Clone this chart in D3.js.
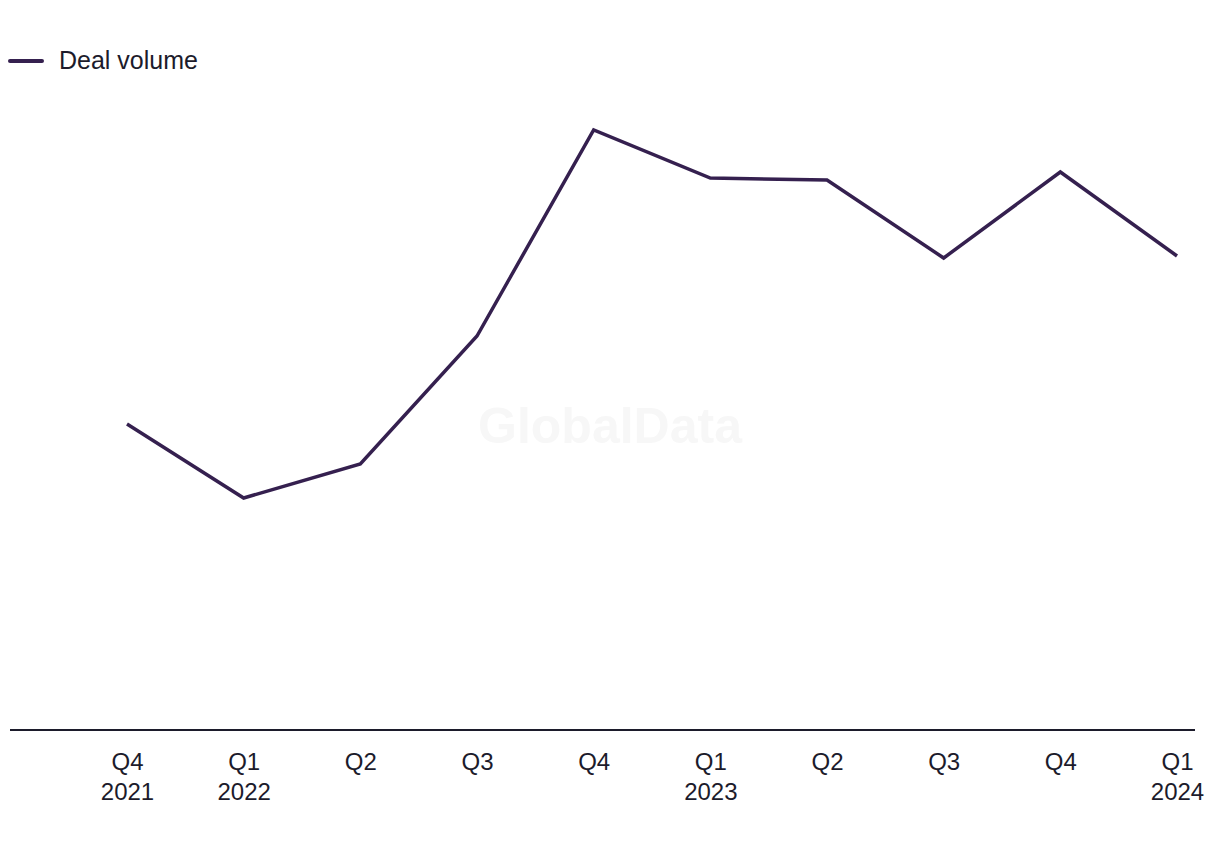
<!DOCTYPE html>
<html>
<head>
<meta charset="utf-8">
<script src="https://cdn.jsdelivr.net/npm/d3@7"></script>
<style>
  html, body { margin: 0; padding: 0; background: #fff; }
  svg { display: block; }
  text { font-family: "Liberation Sans", Arial, sans-serif; fill: #1c1b2b; }
</style>
</head>
<body>
<svg id="chart" width="1220" height="850"></svg>
<script>
const quarters = ["Q4", "Q1", "Q2", "Q3", "Q4", "Q1", "Q2", "Q3", "Q4", "Q1"];
const years = ["2021", "2022", "", "", "", "2023", "", "", "", "2024"];
const categories = quarters.map((q, i) => q + " " + (years[i] || i));
const dealVolume = [153, 116, 133, 197, 300, 276, 275, 236, 279, 237];
const seriesName = "Deal volume";

const lineColor = "#35204f";
const svg = d3.select("#chart");

const x = d3.scalePoint().domain(categories).range([127, 1177]);
const y = d3.scaleLinear().domain([0, 300]).range([730, 130]);

// watermark
svg.append("text")
  .attr("x", 610).attr("y", 443)
  .attr("text-anchor", "middle")
  .style("font-size", "50px").style("font-weight", "700")
  .style("fill", "#f7f7f7")
  .text("GlobalData");

// baseline axis
const axis = d3.axisBottom(x).tickSize(0).tickFormat("");
const gAxis = svg.append("g").attr("transform", "translate(0,730)").call(axis);
gAxis.select(".domain").remove();
gAxis.append("line").attr("x1", 10).attr("x2", 1195).attr("y1", 0).attr("y2", 0)
  .attr("stroke", "#1c1b2b").attr("stroke-width", 2);

gAxis.selectAll(".tick").each(function(d, i) {
  const t = d3.select(this).select("text");
  t.text(null).attr("y", 0).attr("dy", null);
  t.append("tspan").attr("x", 0).attr("y", 40).text(quarters[i]);
  if (years[i]) t.append("tspan").attr("x", 0).attr("y", 70).text(years[i]);
  t.style("font-size", "24px").style("fill", "#1c1b2b").attr("text-anchor", "middle")
   .style("font-family", "'Liberation Sans', Arial, sans-serif");
});

// line
const line = d3.line().x((d, i) => x(categories[i])).y(d => y(d));
svg.append("path").datum(dealVolume)
  .attr("d", line).attr("fill", "none")
  .attr("stroke", lineColor).attr("stroke-width", 3.5)
  .attr("stroke-linejoin", "miter");

// legend
svg.append("line").attr("x1", 10).attr("x2", 42).attr("y1", 61).attr("y2", 61)
  .attr("stroke", lineColor).attr("stroke-width", 4).attr("stroke-linecap", "round");
svg.append("text").attr("x", 59).attr("y", 69)
  .style("font-size", "25px").text(seriesName);
</script>
</body>
</html>
